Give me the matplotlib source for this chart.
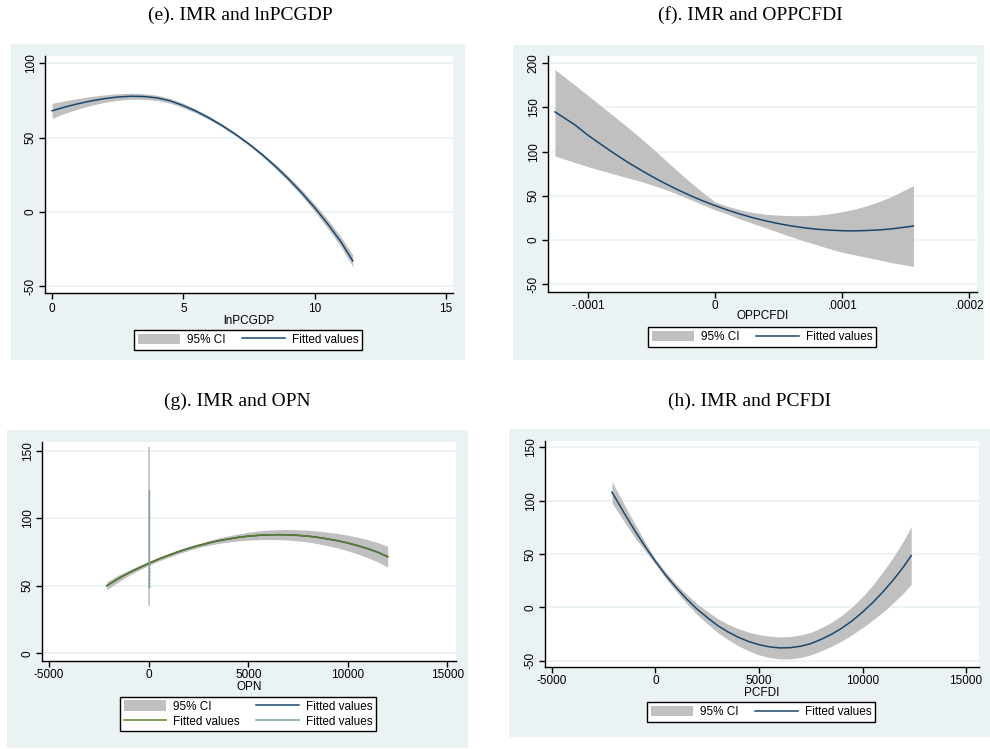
import matplotlib
matplotlib.use("Agg")
import matplotlib.pyplot as plt
from matplotlib.patches import Rectangle, Patch
from matplotlib.lines import Line2D

W, H = 990, 749

# (e) IMR and lnPCGDP
e_x = [0, 0.5, 1, 1.5, 2, 2.5, 3, 3.5, 4, 4.5, 5, 5.5, 6, 6.5, 7, 7.5, 8,
       8.5, 9, 9.5, 10, 10.5, 11, 11.45]
e_fit = [68, 70.6, 72.8, 74.7, 76.2, 77.3, 77.8, 77.6, 76.7, 74.7, 71.5, 67.6,
         63, 57.8, 52, 45.6, 38.5, 30.7, 22.2, 12.9, 2.8, -8.2, -20.2, -33]
e_lo = [63, 66.4, 69.3, 71.7, 73.7, 75.1, 75.8, 75.7, 74.9, 73.1, 70, 66.3,
        61.8, 56.7, 51, 44.6, 37.3, 29.2, 20.4, 10.8, 0.3, -11.2, -23.5, -37]
e_hi = [73, 74.8, 76.3, 77.7, 78.7, 79.5, 79.8, 79.5, 78.5, 76.3, 73, 68.9,
        64.2, 58.9, 53, 46.6, 39.7, 32.2, 24, 15, 5.3, -5.2, -16.9, -29]

# (f) IMR and OPPCFDI (x in units of 1e-4)
f_x = [-1.26, -1.1, -1.0, -0.9, -0.8, -0.7, -0.6, -0.5, -0.4, -0.3, -0.2,
       -0.1, 0, 0.1, 0.2, 0.3, 0.4, 0.5, 0.6, 0.7, 0.8, 0.9, 1.0, 1.1, 1.2,
       1.3, 1.4, 1.56]
f_fit = [145, 130, 118.5, 108.4, 98.5, 89.1, 80.4, 72.1, 64.4, 57.2, 50.5,
         44.4, 38.8, 33.7, 29.1, 25, 21.5, 18.4, 15.8, 13.7, 12.1, 11.1, 10.4,
         10.2, 10.7, 11.4, 12.7, 15.7]
f_lo = [95, 87.5, 83, 78.8, 74.8, 70.8, 66.8, 62.5, 57.5, 52, 46, 40, 34, 29,
        23.5, 18.5, 13.5, 8.5, 3.5, -1.2, -5.5, -10, -14, -17, -20, -23, -26,
        -30]
f_hi = [193, 175, 163.5, 152, 140.5, 129, 117, 104.5, 91.5, 78.5, 66, 54, 43,
        38, 34, 31, 29, 28, 27.5, 27.5, 28, 29.5, 32, 35, 39, 44, 50, 61.4]

# (g) IMR and OPN
g_x = [-2100, -1500, -1000, -500, 0, 500, 1000, 1500, 2000, 2500, 3000, 3500,
       4000, 4500, 5000, 5500, 6000, 6500, 7000, 7500, 8000, 8500, 9000,
       9500, 10000, 10500, 11000, 11500, 12000]
g_fit = [50, 55.5, 59.5, 63.1, 66.5, 69.7, 72.5, 75.2, 77.6, 79.7, 81.6, 83.3,
         84.6, 85.8, 86.7, 87.3, 87.7, 87.8, 87.7, 87.3, 86.7, 85.8, 84.6,
         83.3, 81.6, 79.7, 77.4, 74.8, 71.5]
g_lo = [47, 53, 57.5, 61.4, 65, 68.2, 71, 73.7, 76.1, 78.2, 79.9, 81.3, 82.3,
        83.2, 83.8, 84.1, 84.2, 84.1, 83.8, 83.2, 82.3, 81.1, 79.6, 77.9,
        75.8, 73.5, 70.7, 67.6, 63.8]
g_hi = [53, 58, 61.5, 64.8, 68, 71.2, 74, 76.7, 79.1, 81.2, 83.3, 85.3, 86.9,
        88.4, 89.6, 90.5, 91.2, 91.5, 91.6, 91.4, 91.1, 90.5, 89.6, 88.7,
        87.4, 85.9, 84.1, 82, 79.2]
# second regressor with (almost) no spread: drawn at OPN = 0
g0_x = [0, 0]
g0_ci = [36, 152]
g0_fit2 = [49, 66]
g0_fit3 = [49, 121]

# (h) IMR and PCFDI
h_x = [-2100, -1500, -1000, -500, 0, 500, 1000, 1500, 2000, 2500, 3000, 3500,
       4000, 4500, 5000, 5500, 6000, 6500, 7000, 7500, 8000, 8500, 9000,
       9500, 10000, 10500, 11000, 11500, 12000, 12350]
h_fit = [108, 88, 72, 57, 43, 30, 18.5, 8, -1.5, -9.5, -17, -23, -28, -32,
         -35, -37, -38, -37.8, -36.5, -34, -30, -25.3, -19.5, -12.6, -4.5,
         4.6, 14.8, 26, 38.5, 48.5]
h_lo = [98, 80, 65.5, 53, 40.5, 27, 15, 3.7, -6.5, -15.3, -23.5, -30.2, -36,
        -40.8, -44.5, -47, -48.3, -48.3, -47, -44.5, -40.8, -36.6, -31.5,
        -25.6, -19, -11.9, -4.2, 4.5, 14, 21.5]
h_hi = [118, 96, 78.5, 61, 45.5, 33, 22, 12.3, 3.5, -3.7, -10.5, -15.8, -20,
        -23.2, -25.5, -27, -27.7, -27.3, -26, -23.5, -19.2, -14, -7.5, 0.4,
        10, 21.1, 33.8, 47.5, 63, 75.5]

titles = ["(e). IMR and lnPCGDP", "(f). IMR and OPPCFDI",
          "(g). IMR and OPN", "(h). IMR and PCFDI"]
xlabels = ["lnPCGDP", "OPPCFDI", "OPN", "PCFDI"]

BG = "#eaf2f3"
CI = "#c0c0c0"
NAVY = "#1a476f"
GREEN = "#5a7d29"
TEAL = "#7fa39a"
SANS = "Liberation Sans"
SERIF = "Liberation Serif"


def rect(x0, y0, x1, y1):
    return [x0 / W, 1 - y1 / H, (x1 - x0) / W, (y1 - y0) / H]


fig = plt.figure(figsize=(W / 100, H / 100), dpi=100)
fig.patch.set_facecolor("white")

boxes = [(11, 44, 465, 360), (513, 45, 984, 360),
         (7, 430, 468, 748), (509, 429, 990, 737)]
for x0, y0, x1, y1 in boxes:
    r = rect(x0, y0, x1, y1)
    fig.patches.append(Rectangle((r[0], r[1]), r[2], r[3], transform=fig.transFigure,
                                 facecolor=BG, edgecolor="none", zorder=-10))

title_pos = [(240, 15), (750, 15), (237, 401), (750, 401)]
for t, (tx, ty) in zip(titles, title_pos):
    fig.text(tx / W, 1 - ty / H, t, family=SERIF, fontsize=14,
             ha="center", va="center")

axes_px = [(45, 56, 453, 293), (548, 56, 977, 292),
           (42, 442, 456, 661), (545, 441, 979, 667)]
axs = [fig.add_axes(rect(*p)) for p in axes_px]


def style(ax, xlim, ylim, xticks, xticklabels, yticks, xlabel, labelpad, xpad=3):
    ax.set_facecolor("white")
    ax.set_xlim(*xlim)
    ax.set_ylim(*ylim)
    ax.set_xticks(xticks)
    ax.set_xticklabels(xticklabels, family=SANS, fontsize=8.5)
    ax.set_yticks(yticks)
    ax.set_yticklabels([str(v) for v in yticks], family=SANS, fontsize=8.5,
                       rotation=90, va="center")
    for s in ["top", "right"]:
        ax.spines[s].set_visible(False)
    for s in ["left", "bottom"]:
        ax.spines[s].set_linewidth(1)
        ax.spines[s].set_color("black")
    ax.tick_params(direction="out", length=4, width=1)
    ax.tick_params(axis="x", pad=xpad)
    ax.tick_params(axis="y", pad=2)
    ax.yaxis.grid(True, color=BG, linewidth=1.2)
    ax.set_axisbelow(True)
    ax.set_xlabel(xlabel, family=SANS, fontsize=8.5, labelpad=labelpad)


# (e)
ax = axs[0]
ax.fill_between(e_x, e_lo, e_hi, color=CI, linewidth=0)
ax.plot(e_x, e_fit, color=NAVY, lw=1.1)
style(ax, (-0.27, 15.27), (-54.7, 104.9), [0, 5, 10, 15],
      ["0", "5", "10", "15"], [-50, 0, 50, 100], xlabels[0], 0)

# (f)
ax = axs[1]
fx = [v * 1e-4 for v in f_x]
ax.fill_between(fx, f_lo, f_hi, color=CI, linewidth=0)
ax.plot(fx, f_fit, color=NAVY, lw=1.1)
style(ax, (-1.315e-4, 2.06e-4), (-59, 208.3), [-1e-4, 0, 1e-4, 2e-4],
      ["-.0001", "0", ".0001", ".0002"], [-50, 0, 50, 100, 150, 200],
      xlabels[1], -1, xpad=1.5)

# (g)
ax = axs[2]
ax.fill_between(g_x, g_lo, g_hi, color=CI, linewidth=0)
ax.plot(g0_x, g0_ci, color=CI, lw=1.2)
ax.plot(g_x, g_fit, color=NAVY, lw=1.1)
ax.plot(g0_x, g0_fit2, color=NAVY, lw=1, ls=":")
ax.plot(g_x, g_fit, color=GREEN, lw=1.1)
ax.plot(g0_x, g0_fit3, color=TEAL, lw=1)
style(ax, (-5352, 15427), (-5.7, 156.4), [-5000, 0, 5000, 10000, 15000],
      ["-5000", "0", "5000", "10000", "15000"], [0, 50, 100, 150],
      xlabels[2], 0, xpad=2)

# (h)
ax = axs[3]
ax.fill_between(h_x, h_lo, h_hi, color=CI, linewidth=0)
ax.plot(h_x, h_fit, color=NAVY, lw=1.1)
style(ax, (-5334, 15625), (-55.9, 155.9), [-5000, 0, 5000, 10000, 15000],
      ["-5000", "0", "5000", "10000", "15000"], [-50, 0, 50, 100, 150],
      xlabels[3], 0, xpad=2)

# legends
leg_kw = dict(frameon=True, fancybox=False, edgecolor="black",
              framealpha=1, handlelength=3.6, handleheight=1.0,
              borderpad=0.3, columnspacing=1.4, handletextpad=0.6,
              labelspacing=0.25, borderaxespad=0,
              prop={"family": SANS, "size": 8.5})
ci_h = Patch(facecolor=CI, edgecolor="none")
nv_h = Line2D([], [], color=NAVY, lw=1.1)
legend_pos = [(248, 340), (762, 337), (248, 714), (761, 712)]
for i, ax in enumerate(axs):
    cx, cy = legend_pos[i]
    if i == 2:
        handles = [ci_h, Line2D([], [], color=GREEN, lw=1.1), nv_h,
                   Line2D([], [], color=TEAL, lw=1.1)]
        labels = ["95% CI", "Fitted values", "Fitted values", "Fitted values"]
    else:
        handles = [ci_h, nv_h]
        labels = ["95% CI", "Fitted values"]
    leg = ax.legend(handles, labels, ncol=2, loc="center",
                    bbox_to_anchor=(cx / W, 1 - cy / H),
                    bbox_transform=fig.transFigure, **leg_kw)
    leg.get_frame().set_linewidth(1)

fig.savefig("out.png", dpi=100)
